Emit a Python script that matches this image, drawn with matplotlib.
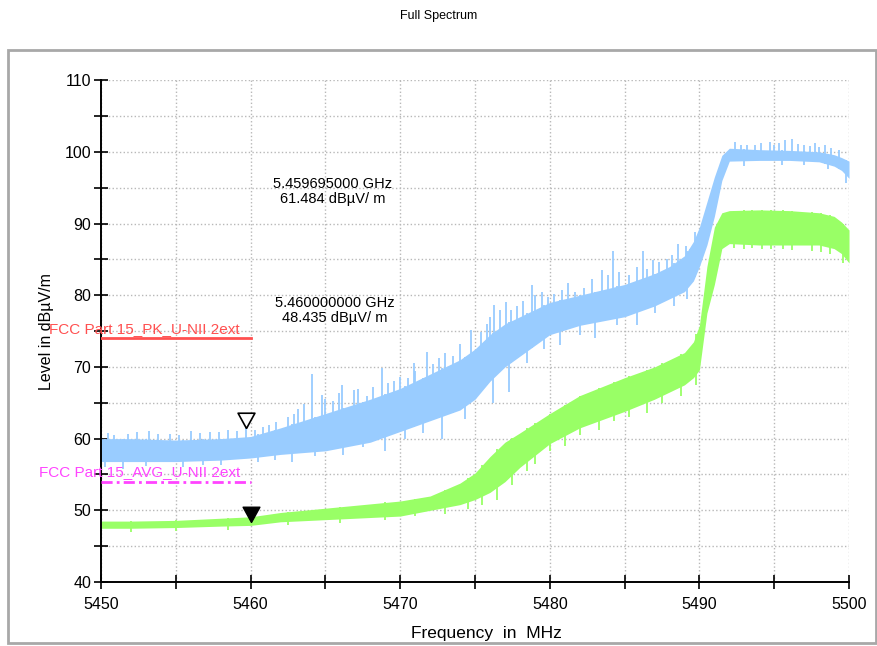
import matplotlib
matplotlib.use("Agg")
import matplotlib.pyplot as plt
import matplotlib.patches as patches
import numpy as np

# frequency grid (MHz) where the trace bands were read
freqs = [5450, 5452, 5455, 5458, 5460, 5462, 5465, 5468, 5470, 5472, 5474, 5475,
         5476, 5477, 5478, 5480, 5482, 5485, 5487, 5488, 5489, 5489.6, 5490,
         5490.5, 5491, 5491.5, 5492, 5494, 5496, 5498, 5499, 5499.5, 5500]

# peak trace (blue) body: low / high edge
pk_lo = [56.8, 56.8, 56.8, 57.0, 57.3, 57.8, 58.3, 59.5, 61.0, 62.5, 64.0, 65.5,
         68.0, 70.0, 71.5, 74.5, 75.8, 77.0, 78.5, 79.5, 80.5, 82.0, 84.0,
         87.0, 91.0, 96.0, 98.7, 98.8, 98.8, 98.6, 98.0, 97.4, 96.3]
pk_hi = [60.0, 60.0, 59.8, 60.0, 60.3, 61.5, 63.5, 65.5, 67.0, 69.0, 71.0, 72.5,
         74.5, 76.0, 77.0, 79.0, 80.0, 81.5, 83.0, 84.0, 85.5, 87.5, 89.5,
         93.0, 96.5, 99.5, 100.5, 100.3, 100.2, 100.0, 99.6, 99.2, 98.7]

# average trace (green) body: low / high edge
av_lo = [47.5, 47.5, 47.6, 47.8, 47.9, 48.4, 48.7, 49.0, 49.2, 50.0, 50.8, 51.5,
         52.5, 54.0, 56.0, 59.3, 61.5, 63.8, 65.5, 66.5, 67.5, 68.5, 69.6,
         77.5, 81.5, 86.5, 87.2, 87.0, 87.0, 87.0, 86.5, 85.8, 84.5]
av_hi = [48.5, 48.5, 48.6, 48.9, 49.1, 49.7, 50.3, 50.9, 51.3, 52.0, 53.8, 55.2,
         57.5, 59.5, 60.8, 63.5, 66.0, 68.5, 70.0, 71.0, 72.0, 73.5, 75.8,
         84.0, 89.5, 91.5, 91.8, 91.9, 91.8, 91.5, 91.0, 90.2, 89.1]

# spikes above the peak band
pk_spike_f = [5450.5, 5450.9, 5451.8, 5452.4, 5453.2, 5453.8, 5454.6, 5455.2, 5456.0,
              5456.6, 5457.3, 5457.9, 5458.5, 5459.1, 5459.7, 5460.3, 5460.8, 5461.2,
              5461.7, 5462.5, 5462.9, 5463.2, 5463.6, 5464.1, 5464.8, 5465.0, 5465.5,
              5465.9, 5466.1, 5466.9, 5467.2, 5467.8, 5468.2, 5468.8, 5469.2, 5469.6,
              5470.0, 5470.5, 5470.9, 5471.0, 5471.8, 5472.2, 5472.6, 5473.0, 5473.5,
              5474.0, 5474.7, 5475.4, 5475.8, 5476.0, 5476.3, 5476.7, 5477.1, 5477.4,
              5477.8, 5478.2, 5478.8, 5479.0, 5479.5, 5479.9, 5480.3, 5480.8, 5481.2,
              5481.7, 5482.3, 5482.8, 5483.5, 5483.9, 5484.2, 5484.6, 5485.3, 5485.8,
              5486.2, 5486.5, 5486.9, 5487.3, 5487.8, 5488.2, 5488.6, 5489.1, 5489.4,
              5489.7, 5492.4, 5492.8, 5493.2, 5493.7, 5494.1, 5494.7, 5495.0, 5495.3,
              5495.7, 5496.2, 5496.6, 5497.0, 5497.4, 5497.7, 5498.0, 5498.4, 5498.8,
              5499.3]
pk_spike_v = [60.8, 60.5, 60.6, 60.9, 61.0, 60.6, 60.7, 60.5, 61.0,
              60.8, 60.9, 60.9, 61.2, 61.0, 61.5, 61.2, 61.6, 61.9,
              62.3, 63.0, 63.5, 64.2, 64.8, 69.0, 66.1, 65.5, 65.2,
              66.3, 67.5, 66.8, 66.9, 66.0, 67.2, 69.8, 67.8, 68.0,
              68.6, 68.5, 70.5, 69.5, 72.1, 70.4, 71.2, 72.0, 71.5,
              73.2, 75.1, 74.9, 76.0, 76.9, 78.6, 77.9, 79.1, 78.0,
              78.5, 79.2, 81.4, 80.0, 80.5, 79.8, 80.2, 80.7, 81.7,
              80.5, 81.0, 82.3, 83.5, 82.8, 86.1, 83.3, 82.8, 84.0,
              86.1, 83.7, 84.9, 84.6, 85.0, 85.6, 87.2, 86.8, 86.5,
              88.8, 101.3, 100.9, 101.0, 101.0, 101.2, 101.4, 100.9, 101.2,
              101.6, 101.8, 101.1, 101.0, 100.8, 101.2, 100.7, 100.9, 100.5,
              100.2]

# dips below the peak band
pk_dip_f = [5450.3, 5451.5, 5453.0, 5455.5, 5456.8, 5458.0, 5460.5, 5461.6, 5462.8,
            5464.3, 5466.2, 5467.5, 5469.0, 5470.3, 5471.5, 5472.8, 5474.3, 5476.2,
            5477.3, 5478.5, 5479.6, 5480.7, 5482.0, 5483.0, 5484.5, 5485.8, 5487.0,
            5488.3, 5489.2, 5493.0, 5495.5, 5497.0, 5498.6, 5499.8]
pk_dip_v = [56.0, 55.8, 56.2, 56.0, 56.3, 56.3, 56.8, 57.0, 56.8,
            57.6, 57.7, 58.8, 58.3, 60.0, 60.8, 60.0, 62.8, 65.0,
            66.5, 70.5, 72.5, 73.0, 74.5, 74.0, 75.8, 75.8, 77.5,
            78.5, 79.5, 98.0, 98.2, 98.1, 97.6, 95.6]

# dips below the average band
av_dip_f = [5452.0, 5455.0, 5458.5, 5462.5, 5466.0, 5469.0, 5471.0, 5473.0, 5474.5,
            5475.5, 5476.5, 5477.5, 5478.5, 5479.0, 5480.0, 5481.0, 5482.0, 5483.3,
            5484.3, 5485.3, 5486.5, 5487.5, 5488.8, 5489.8, 5492.3, 5493.0, 5493.5,
            5494.2, 5494.8, 5495.6, 5496.2, 5497.5, 5498.1, 5498.7, 5499.6]
av_dip_v = [47.0, 47.1, 47.3, 47.9, 48.2, 48.6, 49.2, 49.5, 50.2,
            50.8, 51.5, 53.5, 55.5, 56.5, 58.3, 59.0, 60.5, 61.2,
            62.5, 63.0, 63.6, 65.0, 66.0, 67.5, 86.6, 86.4, 86.6,
            86.5, 86.4, 86.5, 86.3, 86.2, 86.0, 85.8, 84.5]

# limit lines
lim_f = [5450, 5460]
pk_limit = 74.0
av_limit = 54.0

# markers
m1_f, m1_v = 5459.695, 61.484
m2_f, m2_v = 5460.0, 48.435

blue = "#99CCFF"
green = "#99FF66"

plt.rcParams["font.family"] = ["Liberation Sans", "DejaVu Sans"]

fig = plt.figure(figsize=(8.78, 6.46), dpi=100)
ax = fig.add_axes([0.115, 0.099, 0.852, 0.777])

# outer frame
fig.patches.append(patches.Rectangle((8 / 878, 3 / 646), 868 / 878, 593 / 646,
                                     transform=fig.transFigure, fill=False,
                                     edgecolor="#a8a8a8", linewidth=2))

# traces
ax.fill_between(freqs, pk_lo, pk_hi, color=blue, linewidth=0, zorder=2)
ax.vlines(pk_spike_f, np.interp(pk_spike_f, freqs, pk_lo), pk_spike_v,
          color=blue, linewidth=1.3, zorder=2)
ax.vlines(pk_dip_f, pk_dip_v, np.interp(pk_dip_f, freqs, pk_hi),
          color=blue, linewidth=1.3, zorder=2)

ax.fill_between(freqs, av_lo, av_hi, color=green, linewidth=0, zorder=2)
ax.vlines(av_dip_f, av_dip_v, np.interp(av_dip_f, freqs, av_hi),
          color=green, linewidth=1.3, zorder=2)

# limit lines
ax.plot(lim_f, [pk_limit, pk_limit], color="#FF5050", linewidth=2, zorder=3)
ax.plot(lim_f, [av_limit, av_limit], color="#FF44FF", linewidth=2,
        linestyle=(0, (4, 1.5, 1, 1.5)), zorder=3)
ax.text(5459.3, pk_limit + 0.3, "FCC Part 15_PK_U-NII 2ext", color="#FF5050",
        fontsize=11, ha="right", va="bottom", clip_on=False)
ax.text(5459.3, av_limit + 0.3, "FCC Part 15_AVG_U-NII 2ext", color="#FF44FF",
        fontsize=11, ha="right", va="bottom", clip_on=False)

# markers (apex sits on the value)
tri = [(0, 0), (-0.55, 1), (0.55, 1), (0, 0)]
ax.plot([m1_f], [m1_v], marker=tri, markersize=22, markerfacecolor="white",
        markeredgecolor="black", markeredgewidth=1.2, linestyle="none", zorder=5)
ax.plot([m2_f], [m2_v], marker=tri, markersize=22, markerfacecolor="black",
        markeredgecolor="black", linestyle="none", zorder=5)

ax.text(5465.5, 94.5, "5.459695000 GHz\n61.484 dBµV/ m", fontsize=10.5,
        ha="center", va="center", linespacing=1.1, zorder=6)
ax.text(5465.6, 77.9, "5.460000000 GHz\n48.435 dBµV/ m", fontsize=10.5,
        ha="center", va="center", linespacing=1.1, zorder=6)

# axes styling
ax.set_xlim(5450, 5500)
ax.set_ylim(40, 110)
ax.set_xticks(np.arange(5450, 5501, 10))
ax.set_xticks(np.arange(5455, 5500, 10), minor=True)
ax.set_yticks(np.arange(40, 111, 10))
ax.set_yticks(np.arange(45, 110, 10), minor=True)
ax.grid(True, which="both", linestyle=":", color="#b8b8b8", linewidth=1, zorder=0)
ax.set_axisbelow(True)
for s in ["top", "right"]:
    ax.spines[s].set_visible(False)
for s in ["left", "bottom"]:
    ax.spines[s].set_linewidth(1.4)
ax.tick_params(which="both", direction="inout", length=10, width=1.2, labelsize=11.5)
ax.tick_params(axis="y", pad=2)
ax.tick_params(axis="x", pad=6)

ax.set_xlabel("Frequency  in  MHz", fontsize=12.5)
ax.xaxis.set_label_coords(0.515, -0.088)
ax.set_ylabel("Level in dBµV/m", fontsize=11.5, labelpad=8)
fig.text(0.5, 1 - 16 / 646, "Full Spectrum", ha="center", va="center",
         fontsize=9, family=["Liberation Sans Narrow", "Liberation Sans", "DejaVu Sans"])

fig.savefig("out.png", dpi=100)
